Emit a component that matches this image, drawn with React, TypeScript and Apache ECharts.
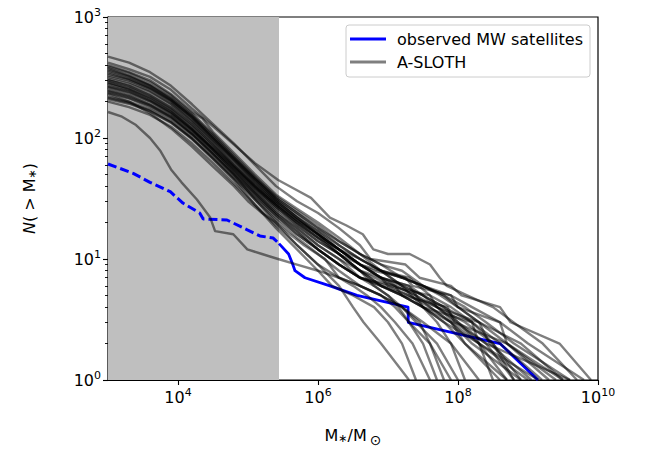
import React, { useEffect, useRef } from "react";
import * as echarts from "echarts";

// ---- data (log10 of stellar mass, cumulative count N(>M*)) ----
const shadedLimitLogM = 5.443; // completeness limit shaded region (log10 M*)

const mwDashed: [number, number][] = [
  [3.0, 61], [3.36, 51], [3.6, 43], [3.89, 36], [4.07, 29], [4.31, 24], [4.36, 21.4],
  [4.7, 21], [4.99, 17.4], [5.17, 15.5], [5.36, 14.9], [5.443, 13.4],
];
const mwSolid: [number, number][] = [
  [5.443, 13.4], [5.58, 11], [5.64, 9], [5.671, 8], [5.814, 7], [6.171, 6], [6.557, 5],
  [7.286, 4], [7.29, 3], [8.6, 2], [9.143, 1],
];

const run01: [number, number][] = [[3, 420], [3.3, 370], [3.6, 320], [3.9, 250], [4.2, 175], [4.5, 125], [4.8, 88], [5.1, 62], [5.43, 45], [5.7, 37], [5.9, 32], [6.17, 22], [6.4, 19], [6.64, 16], [6.79, 12], [7.0, 11], [7.31, 11], [7.6, 9], [7.74, 7], [7.84, 6], [8.13, 5], [8.5, 4], [8.79, 3], [9.21, 2], [9.7, 1]];
const run02: [number, number][] = [[3, 470], [3.3, 420], [3.6, 350], [3.9, 270], [4.2, 190], [4.5, 130], [4.8, 90], [5.1, 60], [5.4, 40], [5.7, 30], [6.0, 24], [6.3, 18], [6.6, 13], [6.75, 10], [7.25, 9], [7.45, 7], [7.9, 6], [8.05, 5], [8.6, 4], [8.75, 3], [9.45, 2], [9.9, 1]];
const run03: [number, number][] = [[3, 400], [3.3, 350], [3.6, 300], [3.9, 230], [4.2, 165], [4.35, 145], [4.5, 112], [4.8, 75], [5.1, 50], [5.4, 34], [5.7, 26], [6.0, 20], [6.3, 15], [6.6, 11], [6.9, 9], [7.2, 7], [7.5, 6], [7.75, 5], [8.0, 4], [8.3, 3], [8.7, 2], [9.5, 1]];
const run04: [number, number][] = [[3, 350], [3.3, 310], [3.6, 260], [3.9, 205], [4.2, 150], [4.5, 100], [4.8, 68], [5.1, 46], [5.4, 32], [5.7, 24], [6.0, 18], [6.3, 13], [6.6, 10], [6.9, 8], [7.3, 7], [7.6, 5], [7.9, 4], [8.2, 3], [8.6, 2], [9.2, 1]];
const run05: [number, number][] = [[3, 310], [3.3, 280], [3.6, 240], [3.9, 190], [4.2, 135], [4.5, 92], [4.8, 60], [5.1, 40], [5.4, 28], [5.7, 21], [6.0, 16], [6.3, 12], [6.6, 9], [6.8, 8], [7.25, 7], [7.35, 6], [7.9, 5], [8.0, 4], [8.6, 3], [8.7, 2], [9.4, 1]];
const run06: [number, number][] = [[3, 290], [3.3, 255], [3.6, 215], [3.9, 170], [4.2, 120], [4.5, 82], [4.8, 56], [5.1, 38], [5.4, 27], [5.7, 19], [6.0, 14], [6.3, 11], [6.6, 8], [6.9, 7], [7.2, 6], [7.5, 4], [7.9, 3], [8.3, 2], [9.0, 1]];
const run07: [number, number][] = [[3, 260], [3.3, 235], [3.6, 200], [3.9, 158], [4.2, 115], [4.5, 80], [4.8, 54], [5.1, 36], [5.4, 25], [5.7, 18], [6.0, 13], [6.3, 10], [6.6, 8], [6.9, 6], [7.3, 5], [7.7, 4], [8.1, 3], [8.5, 2], [8.8, 1]];
const run08: [number, number][] = [[3, 240], [3.3, 215], [3.6, 185], [3.9, 148], [4.2, 108], [4.5, 74], [4.8, 50], [5.1, 34], [5.4, 23], [5.7, 16], [6.0, 12], [6.3, 9], [6.6, 7], [7.1, 6], [7.2, 5], [7.85, 4], [7.95, 3], [8.7, 2], [9.3, 1]];
const run09: [number, number][] = [[3, 220], [3.3, 200], [3.6, 172], [3.9, 138], [4.2, 100], [4.5, 68], [4.8, 46], [5.1, 31], [5.4, 21], [5.7, 15], [6.0, 11], [6.3, 8], [6.6, 6], [6.9, 5], [7.2, 4], [7.4, 3], [7.7, 2], [8.0, 1]];
const run10: [number, number][] = [[3, 200], [3.3, 180], [3.6, 155], [3.9, 124], [4.2, 90], [4.5, 62], [4.8, 42], [5.1, 28], [5.4, 19], [5.7, 13], [6.0, 9], [6.3, 7], [6.5, 6], [6.7, 5], [6.9, 4], [7.1, 3], [7.35, 2], [7.6, 1]];
const run11: [number, number][] = [[3, 164], [3.2, 150], [3.4, 128], [3.6, 100], [3.75, 78], [3.9, 55], [4.05, 43], [4.27, 31], [4.46, 22], [4.53, 17], [4.79, 16], [4.99, 12], [5.2, 11], [5.43, 10], [5.7, 9], [6.0, 8], [6.3, 7], [6.6, 6], [6.9, 5], [7.2, 4], [7.5, 3], [7.9, 2], [8.3, 1]];
const run12: [number, number][] = [[3, 230], [3.3, 200], [3.6, 160], [3.9, 120], [4.2, 85], [4.5, 58], [4.8, 40], [5.0, 30], [5.2, 24], [5.4, 20], [5.6, 16], [5.8, 13], [6.1, 10], [6.3, 7], [6.6, 6], [6.9, 5], [7.1, 4], [7.3, 3], [7.6, 2], [7.9, 1]];
const run13: [number, number][] = [[3, 380], [3.3, 330], [3.6, 275], [3.9, 215], [4.2, 155], [4.5, 105], [4.8, 70], [5.1, 47], [5.4, 33], [5.7, 25], [6.0, 19], [6.3, 14], [6.6, 11], [6.9, 8], [7.2, 6], [7.5, 5], [7.8, 4], [8.2, 3], [8.5, 2], [8.9, 1]];
const run14: [number, number][] = [[3, 330], [3.3, 300], [3.6, 255], [3.9, 200], [4.2, 142], [4.5, 96], [4.8, 65], [5.1, 43], [5.4, 30], [5.7, 22], [6.0, 17], [6.3, 12], [6.6, 9], [6.9, 7], [7.1, 6], [7.4, 5], [7.7, 4], [7.95, 3], [8.4, 2], [9.6, 1]];
const run15: [number, number][] = [[3, 300], [3.3, 270], [3.6, 225], [3.9, 178], [4.2, 128], [4.5, 88], [4.8, 58], [5.1, 39], [5.4, 27], [5.7, 20], [6.0, 15], [6.3, 11], [6.6, 8], [6.8, 7], [7.1, 6], [7.4, 5], [7.6, 4], [7.9, 3], [8.1, 2], [8.7, 1]];
const run16: [number, number][] = [[3, 280], [3.3, 250], [3.6, 210], [3.9, 165], [4.2, 118], [4.5, 80], [4.8, 53], [5.1, 35], [5.4, 24], [5.7, 18], [6.0, 13], [6.3, 10], [6.6, 7], [6.9, 6], [7.2, 5], [7.5, 4], [7.7, 3], [7.9, 2], [8.1, 1]];
const run17: [number, number][] = [[3, 270], [3.3, 245], [3.6, 205], [3.9, 163], [4.2, 118], [4.5, 82], [4.8, 57], [5.1, 39], [5.4, 28], [5.7, 20], [6.0, 15], [6.3, 11], [6.6, 9], [6.9, 7], [7.0, 6], [7.6, 5], [7.7, 4], [8.3, 3], [8.45, 2], [9.05, 1]];
const run18: [number, number][] = [[3, 250], [3.3, 225], [3.6, 190], [3.9, 152], [4.2, 110], [4.5, 76], [4.8, 51], [5.1, 35], [5.4, 24], [5.7, 17], [6.0, 12], [6.3, 9], [6.6, 7], [6.8, 6], [7.0, 5], [7.2, 4], [7.45, 3], [7.6, 2], [7.8, 1]];
const run19: [number, number][] = [[3, 360], [3.3, 320], [3.6, 270], [3.9, 208], [4.2, 148], [4.5, 100], [4.8, 67], [5.1, 45], [5.4, 31], [5.7, 23], [6.0, 17], [6.3, 13], [6.6, 10], [6.9, 8], [7.2, 7], [7.5, 6], [7.8, 5], [8.0, 4], [8.3, 3], [8.9, 2], [9.5, 1]];
const run20: [number, number][] = [[3, 320], [3.3, 290], [3.6, 245], [3.9, 192], [4.2, 138], [4.5, 94], [4.8, 63], [5.1, 42], [5.4, 29], [5.7, 21], [6.0, 16], [6.3, 12], [6.6, 9], [6.9, 7], [7.3, 6], [7.5, 5], [7.7, 4], [8.0, 3], [8.4, 2], [8.8, 1]];
const run21: [number, number][] = [[3, 235], [3.3, 212], [3.6, 180], [3.9, 145], [4.2, 106], [4.5, 73], [4.8, 49], [5.1, 33], [5.4, 23], [5.7, 17], [6.0, 12], [6.3, 9], [6.6, 7], [6.9, 6], [7.2, 5], [7.5, 4], [7.8, 3], [8.3, 2], [8.7, 1]];
const run22: [number, number][] = [[3, 210], [3.3, 192], [3.6, 166], [3.9, 134], [4.2, 98], [4.5, 67], [4.8, 45], [5.1, 28], [5.4, 18], [5.7, 12], [6.0, 8], [6.2, 6], [6.5, 5], [6.8, 4], [7.0, 3], [7.2, 2], [7.4, 1]];
const run23: [number, number][] = [[3, 390], [3.3, 345], [3.6, 290], [3.9, 225], [4.2, 160], [4.5, 108], [4.8, 72], [5.1, 48], [5.4, 32], [5.7, 24], [6.0, 18], [6.3, 14], [6.6, 11], [6.9, 9], [7.2, 8], [7.5, 6], [7.9, 5], [8.2, 4], [8.6, 3], [9.0, 2], [9.8, 1]];
const run24: [number, number][] = [[3, 340], [3.3, 305], [3.6, 258], [3.9, 202], [4.2, 146], [4.5, 99], [4.8, 66], [5.1, 44], [5.4, 30], [5.7, 22], [6.0, 16], [6.3, 12], [6.6, 9], [6.9, 7], [7.3, 6], [7.4, 5], [7.5, 4], [8.2, 3], [8.3, 2], [9.15, 1]];
const run25: [number, number][] = [[3, 265], [3.3, 240], [3.6, 202], [3.9, 160], [4.2, 116], [4.5, 79], [4.8, 54], [5.1, 37], [5.4, 26], [5.7, 19], [6.0, 14], [6.3, 11], [6.6, 8], [6.8, 6], [7.0, 5], [7.15, 4], [7.3, 3], [7.5, 2], [7.7, 1]];
const run26: [number, number][] = [[3, 300], [3.3, 268], [3.6, 228], [3.9, 180], [4.2, 130], [4.5, 88], [4.8, 60], [5.1, 41], [5.4, 29], [5.7, 21], [6.0, 16], [6.3, 12], [6.6, 10], [6.9, 8], [7.2, 6], [7.5, 5], [7.8, 4], [8.0, 3], [8.3, 2], [8.5, 1]];
const run27: [number, number][] = [[3, 245], [3.3, 222], [3.6, 188], [3.9, 150], [4.2, 108], [4.5, 74], [4.8, 50], [5.1, 31], [5.4, 20], [5.7, 13], [6.0, 9], [6.3, 6], [6.5, 4], [6.65, 3], [6.9, 2], [7.3, 1]];
const run28: [number, number][] = [[3, 285], [3.3, 258], [3.6, 218], [3.9, 172], [4.2, 124], [4.5, 85], [4.8, 58], [5.1, 40], [5.4, 28], [5.7, 20], [6.0, 15], [6.3, 12], [6.6, 9], [6.9, 8], [7.2, 7], [7.5, 6], [7.8, 5], [8.1, 4], [8.4, 3], [8.8, 2], [9.6, 1]];
const run29: [number, number][] = [[3, 370], [3.3, 325], [3.6, 272], [3.9, 212], [4.2, 152], [4.5, 103], [4.8, 69], [5.1, 46], [5.4, 31], [5.7, 22], [6.0, 16], [6.3, 11], [6.6, 8], [6.9, 6], [7.2, 5], [7.5, 4], [7.8, 3], [8.1, 2], [8.6, 1]];
const run30: [number, number][] = [[3, 215], [3.3, 195], [3.6, 168], [3.9, 135], [4.2, 99], [4.5, 69], [4.8, 47], [5.1, 32], [5.4, 22], [5.7, 16], [6.0, 12], [6.3, 9], [6.6, 7], [7.0, 6], [7.3, 5], [7.6, 4], [7.9, 3], [8.2, 2], [8.9, 1]];

const aslothRuns = [
  run01, run02, run03, run04, run05, run06, run07, run08, run09, run10,
  run11, run12, run13, run14, run15, run16, run17, run18, run19, run20,
  run21, run22, run23, run24, run25, run26, run27, run28, run29, run30,
];

const xMajorTicks = [1e4, 1e6, 1e8, 1e10];
const yMajorTicks = [1, 10, 100, 1000];
const yMinorTicks = [
  2, 3, 4, 5, 6, 7, 8, 9, 20, 30, 40, 50, 60, 70, 80, 90, 200, 300, 400, 500, 600, 700, 800, 900,
];

const FONT = "DejaVu Sans";
const FS = 16;
const toXY = (pts: [number, number][]) => pts.map(([lm, n]) => [Math.pow(10, lm), n]);
const powLabel = (v: number) => `10{sup|${Math.round(Math.log10(v))}}`;
const supRich = {
  sup: { fontSize: 11, fontFamily: FONT, color: "#000", padding: [0, 0, 10, 0] },
};

export default function App() {
  const ref = useRef<HTMLDivElement>(null);
  useEffect(() => {
    if (!ref.current) return;
    const chart = echarts.init(ref.current, undefined, { renderer: "svg" });
    const grayColor = "rgba(0,0,0,0.5)";
    const series: any[] = [
      {
        name: "observed MW satellites (incomplete)",
        type: "line",
        data: toXY(mwDashed),
        showSymbol: false,
        symbol: "none",
        z: 2,
        lineStyle: { color: "#0000ff", width: 3, type: [9, 4] },
        itemStyle: { color: "#0000ff" },
        markArea: {
          silent: true,
          itemStyle: { color: "#bfbfbf" },
          data: [[{ xAxis: 1e3 }, { xAxis: Math.pow(10, shadedLimitLogM) }]],
        },
      },
      {
        name: "observed MW satellites",
        type: "line",
        data: toXY(mwSolid),
        showSymbol: false,
        symbol: "none",
        z: 2,
        lineStyle: { color: "#0000ff", width: 2.8, join: "round" },
        itemStyle: { color: "#0000ff" },
      },
      ...aslothRuns.map((run) => ({
        name: "A-SLOTH",
        type: "line",
        data: toXY(run),
        showSymbol: false,
        symbol: "none",
        z: 3,
        lineStyle: { color: grayColor, width: 2.4, join: "round" },
        itemStyle: { color: grayColor },
      })),
    ];
    chart.setOption({
      animation: false,
      backgroundColor: "#fff",
      grid: {
        left: 108,
        right: 48,
        top: 17,
        bottom: 74,
        show: true,
        borderColor: "#000",
        borderWidth: 1.2,
        backgroundColor: "transparent",
      },
      legend: {
        data: ["observed MW satellites", "A-SLOTH"],
        orient: "vertical",
        left: 346,
        top: 25,
        padding: [5, 7, 6, 4],
        itemGap: 5,
        itemWidth: 36,
        itemHeight: 3,
        icon: "rect",
        borderColor: "#cccccc",
        borderWidth: 1,
        borderRadius: 3,
        backgroundColor: "rgba(255,255,255,0.8)",
        textStyle: { fontFamily: FONT, fontSize: FS, color: "#000", lineHeight: 18, padding: [0, 0, 0, 6] },
        selectedMode: false,
      },
      xAxis: {
        type: "log",
        logBase: 10,
        min: 1e3,
        max: 1e10,
        name: "M{sub|∗}/M{sub2|⊙}",
        nameLocation: "middle",
        nameGap: 44,
        nameTextStyle: {
          fontFamily: FONT,
          fontSize: FS,
          color: "#000",
          rich: {
            sub: { fontSize: 11, fontFamily: FONT, color: "#000", padding: [6, 0, 0, 0] },
            sub2: { fontSize: 14, fontFamily: FONT, color: "#000", padding: [9, 0, 0, 3] },
          },
        },
        splitLine: { show: false },
        axisLine: { show: true, lineStyle: { color: "#000", width: 1.2 } },
        axisTick: { show: true, length: 5, lineStyle: { color: "#000", width: 1.1 }, customValues: xMajorTicks },
        axisLabel: {
          fontFamily: FONT,
          fontSize: FS,
          color: "#000",
          margin: 7,
          customValues: xMajorTicks,
          formatter: powLabel,
          rich: supRich,
        },
      },
      yAxis: [
        {
          type: "log",
          logBase: 10,
          min: 1,
          max: 1000,
          name: "{it|N}( > M{sub|∗})",
          nameLocation: "middle",
          nameGap: 70,
          nameTextStyle: {
            fontFamily: FONT,
            fontSize: FS,
            color: "#000",
            rich: {
              it: { fontStyle: "italic", fontSize: FS, fontFamily: FONT, color: "#000" },
              sub: { fontSize: 11, fontFamily: FONT, color: "#000", padding: [6, 0, 0, 0] },
            },
          },
          splitLine: { show: false },
          axisLine: { show: true, lineStyle: { color: "#000", width: 1.2 } },
          axisTick: { show: true, length: 5, lineStyle: { color: "#000", width: 1.1 }, customValues: yMajorTicks },
          axisLabel: {
            fontFamily: FONT,
            fontSize: FS,
            color: "#000",
            margin: 7,
            customValues: yMajorTicks,
            formatter: powLabel,
            rich: supRich,
          },
        },
        {
          type: "log",
          logBase: 10,
          min: 1,
          max: 1000,
          position: "left",
          splitLine: { show: false },
          axisLine: { show: false },
          axisTick: { show: true, length: 3, lineStyle: { color: "#000", width: 0.9 }, customValues: yMinorTicks },
          axisLabel: { show: false },
        },
      ],
      series,
    });
    return () => chart.dispose();
  }, []);
  return (
    <div
      ref={ref}
      style={{ position: "fixed", left: 0, top: 0, width: 646, height: 454, background: "#fff" }}
    />
  );
}
